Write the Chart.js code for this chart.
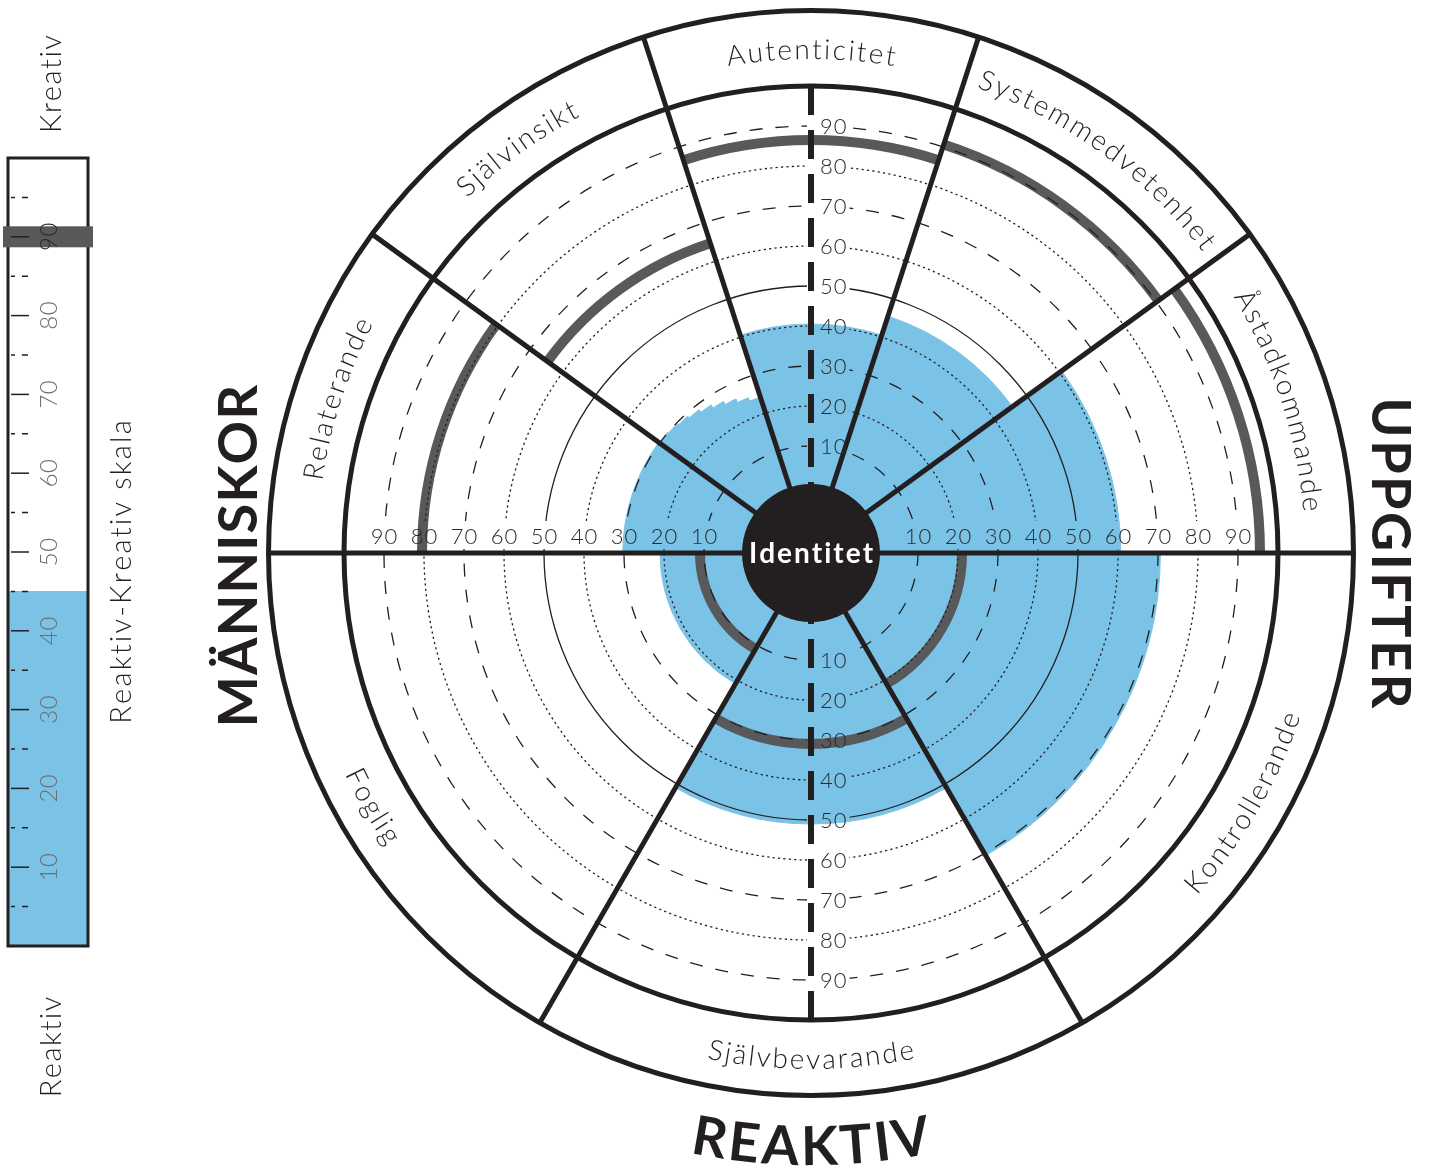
<!DOCTYPE html>
<html lang="sv">
<head>
<meta charset="utf-8">
<title>Ledarskapsprofil</title>
<script src="https://cdn.jsdelivr.net/npm/chart.js@4.4.1/dist/chart.umd.min.js"></script>
<style>
  html, body { margin: 0; padding: 0; background: #fff; }
  #wrap { position: relative; width: 1441px; height: 1171px; }
  #cirkel { position: absolute; left: 0; top: 0; width: 1441px; height: 1171px; }
  #skala { position: absolute; left: 0; top: 0; width: 170px; height: 1171px; }
</style>
</head>
<body>
<div id="wrap">
  <div id="cirkel"><canvas id="cirkelGraf"></canvas></div>
  <div id="skala"><canvas id="skalaGraf"></canvas></div>
</div>
<script>
// dimensioner medurs från klockan 9
const dimensioner = ["Relaterande", "Självinsikt", "Autenticitet", "Systemmedvetenhet", "Åstadkommande", "Kontrollerande", "Självbevarande", "Foglig"];
const dimVinklar = [36, 36, 36, 36, 36, 60, 60, 60];
// grå normbåge per dimension
const normVarden = [80.5, 64.7, 86.5, 90.6, 95.5, 21, 31, 11];

// blå profil (kilar, grader + värde)
const profilDelar = ["Relaterande",
  "Självinsikt 1", "Självinsikt 2", "Självinsikt 3", "Självinsikt 4", "Självinsikt 5",
  "Självinsikt 6", "Självinsikt 7", "Självinsikt 8", "Självinsikt 9",
  "Autenticitet", "Systemmedvetenhet", "Åstadkommande", "Kontrollerande", "Självbevarande", "Foglig"];
const profilVinklar = [36, 4, 4, 4, 4, 4, 4, 4, 4, 4, 36, 36, 36, 60, 60, 60];
const profilVarden = [30.3, 30.1, 29.8, 29.3, 28.7, 27.9, 27.0, 26.1, 25.1, 24.2, 40.5, 45.5, 60.7, 70.6, 51, 21];

const ringTicks = [10, 20, 30, 40, 50, 60, 70, 80, 90];
const ringStil = ["dash", "dot", "dash", "dot", "solid", "dot", "dash", "dot", "dash"];

// vänster skala
const skalaVarde = 45;
const skalaMarkering = 90;
const skalaTicks = [10, 20, 30, 40, 50, 60, 70, 80, 90];
const skalaSmaTicks = [5, 15, 25, 35, 45, 55, 65, 75, 85, 95];

const SVART = '#231f20';
const BLA = '#7ac3e7';
const GRA = '#58595b';
const FONT = 'Lato, "Open Sans", sans-serif';

function bredd(ctx, text, sp) {
  const chars = [...text];
  return chars.reduce((s, c) => s + ctx.measureText(c).width, 0) + sp * (chars.length - 1);
}

// text med teckenavstånd, align: 'left' | 'center'
function spaced(ctx, text, x, y, sp, align) {
  const chars = [...text];
  let pos = align === 'center' ? x - bredd(ctx, text, sp) / 2 : x;
  ctx.textAlign = 'left';
  chars.forEach(c => {
    ctx.fillText(c, pos, y);
    pos += ctx.measureText(c).width + sp;
  });
}

function roterad(ctx, text, x, y, rot, sp) {
  ctx.save();
  ctx.translate(x, y);
  ctx.rotate(rot);
  spaced(ctx, text, 0, 0, sp, 'center');
  ctx.restore();
}

// text längs en båge; utat = bokstävernas topp pekar utåt
function bagText(ctx, text, cx, cy, r, mitt, utat, sp) {
  const chars = [...text];
  const total = bredd(ctx, text, sp);
  let pos = -total / 2;
  ctx.textAlign = 'center';
  chars.forEach(c => {
    const w = ctx.measureText(c).width;
    const mid = pos + w / 2;
    const a = utat ? mitt + mid / r : mitt - mid / r;
    ctx.save();
    ctx.translate(cx + r * Math.cos(a), cy + r * Math.sin(a));
    ctx.rotate(utat ? a + Math.PI / 2 : a - Math.PI / 2);
    ctx.fillText(c, 0, 0);
    ctx.restore();
    pos += w + sp;
  });
}

const cirkelPlugin = {
  id: 'cirkel',
  afterDatasetsDraw(chart) {
    const ctx = chart.ctx;
    const s = chart.scales.r;
    const cx = s.xCenter, cy = s.yCenter;
    const R = v => s.getDistanceFromCenterForValue(v);
    const rad = d => d * Math.PI / 180;

    const gr = [];
    let a = rad(s.options.startAngle - 90);
    dimVinklar.forEach(d => { gr.push(a); a += rad(d); });
    gr.push(a);

    ctx.save();
    ctx.lineCap = 'butt';

    // grå normbågar
    ctx.strokeStyle = GRA;
    ctx.lineWidth = 10;
    normVarden.forEach((v, i) => {
      ctx.beginPath();
      ctx.arc(cx, cy, R(v), gr[i], gr[i + 1]);
      ctx.stroke();
    });

    // etiketter och deras ytor
    ctx.font = '300 22px ' + FONT;
    const etiketter = [];
    const ytor = [];
    ringTicks.forEach(v => {
      const r = R(v);
      const t = String(v);
      const w = bredd(ctx, t, 1);
      [cx - r, cx + r].forEach(x => {
        etiketter.push({ t, x: x - w / 2, y: cy - 9 });
        ytor.push([x - w / 2 - 3, cy - 32, w + 6, 28]);
      });
      [cy - r, cy + r].forEach(y => {
        etiketter.push({ t, x: cx + 9, y: y + 8 });
        ytor.push([cx - 4, y - 11, w + 16, 22]);
      });
    });

    // rutnätscirklar
    ctx.save();
    ctx.beginPath();
    ctx.rect(0, 0, chart.width, chart.height);
    ytor.forEach(r => ctx.rect(r[0], r[1], r[2], r[3]));
    ctx.clip('evenodd');
    ctx.strokeStyle = SVART;
    ctx.lineWidth = 1.3;
    ringTicks.forEach((v, i) => {
      const st = ringStil[i];
      ctx.setLineDash(st === 'dash' ? [13, 13] : st === 'dot' ? [2.2, 3.2] : []);
      ctx.beginPath();
      ctx.arc(cx, cy, R(v), 0, Math.PI * 2);
      ctx.stroke();
    });
    ctx.restore();

    // ringar och delningslinjer
    ctx.setLineDash([]);
    ctx.strokeStyle = SVART;
    ctx.lineWidth = 5;
    ctx.beginPath();
    ctx.arc(cx, cy, R(100), 0, Math.PI * 2);
    ctx.stroke();
    const yttre = s.drawingArea - 1.5;
    ctx.beginPath();
    ctx.arc(cx, cy, yttre, 0, Math.PI * 2);
    ctx.stroke();
    gr.slice(0, dimVinklar.length).forEach(g => {
      ctx.beginPath();
      ctx.moveTo(cx, cy);
      ctx.lineTo(cx + yttre * Math.cos(g), cy + yttre * Math.sin(g));
      ctx.stroke();
    });

    // lodrät streckad axel
    ctx.lineWidth = 6;
    ctx.setLineDash([29, 15]);
    ctx.beginPath();
    ctx.moveTo(cx, cy - R(100));
    ctx.lineTo(cx, cy - R(0));
    ctx.moveTo(cx, cy + R(100));
    ctx.lineTo(cx, cy + R(0));
    ctx.stroke();
    ctx.setLineDash([]);

    // identitet
    ctx.fillStyle = SVART;
    ctx.beginPath();
    ctx.arc(cx, cy, R(0.5), 0, Math.PI * 2);
    ctx.fill();
    ctx.fillStyle = '#fff';
    ctx.font = 'bold 28px ' + FONT;
    ctx.textBaseline = 'alphabetic';
    spaced(ctx, 'Identitet', cx, cy + 10, 2, 'center');

    // skaletiketter
    ctx.fillStyle = '#2e2a2b';
    ctx.font = '300 22px ' + FONT;
    etiketter.forEach(e => spaced(ctx, e.t, e.x, e.y, 1, 'left'));

    // dimensionsnamn
    ctx.fillStyle = SVART;
    ctx.font = '300 28px ' + FONT;
    dimensioner.forEach((d, i) => {
      const mitt = (gr[i] + gr[i + 1]) / 2;
      const utat = Math.sin(mitt) < 0;
      bagText(ctx, d, cx, cy, utat ? 494 : 516, mitt, utat, 2.2);
    });

    // stora rubriker
    ctx.font = 'bold 54px ' + FONT;
    roterad(ctx, 'MÄNNISKOR', cx - 554, cy + 3, -Math.PI / 2, 1.2);
    roterad(ctx, 'UPPGIFTER', cx + 561, cy, Math.PI / 2, 2.5);
    bagText(ctx, 'REAKTIV', cx, cy, 612, Math.PI / 2, false, 3);

    ctx.restore();
  }
};

new Chart(document.getElementById('cirkelGraf'), {
  type: 'polarArea',
  data: {
    labels: profilDelar,
    datasets: [{
      data: profilVarden,
      angle: profilVinklar,
      backgroundColor: BLA,
      borderColor: BLA,
      borderWidth: 1
    }]
  },
  options: {
    responsive: true,
    maintainAspectRatio: false,
    animation: false,
    layout: { padding: { left: 267, right: 86, top: 9, bottom: 74 } },
    plugins: { legend: { display: false }, tooltip: { enabled: false } },
    scales: {
      r: {
        min: -16.75,
        max: 119.25,
        startAngle: 270,
        ticks: { display: false },
        grid: { display: false },
        angleLines: { display: false },
        pointLabels: { display: false }
      }
    }
  },
  plugins: [cirkelPlugin]
});

const skalaPlugin = {
  id: 'skala',
  afterDatasetsDraw(chart) {
    const ctx = chart.ctx;
    const y = chart.scales.y;
    const { left, right, top, bottom } = chart.chartArea;
    ctx.save();

    ctx.strokeStyle = SVART;
    ctx.lineWidth = 3;
    ctx.strokeRect(left, top, right - left, bottom - top);

    // markering
    const ym = y.getPixelForValue(skalaMarkering);
    ctx.fillStyle = GRA;
    ctx.fillRect(left - 5, ym - 10.5, right - left + 10, 21);

    // tickmarkeringar
    ctx.lineWidth = 1.5;
    skalaTicks.forEach(v => {
      const p = y.getPixelForValue(v);
      ctx.beginPath();
      ctx.moveTo(left + 3, p);
      ctx.lineTo(left + 21, p);
      ctx.stroke();
    });
    skalaSmaTicks.forEach(v => {
      const p = y.getPixelForValue(v);
      ctx.beginPath();
      ctx.moveTo(left + 3, p);
      ctx.lineTo(left + 7, p);
      ctx.moveTo(left + 14, p);
      ctx.lineTo(left + 20, p);
      ctx.stroke();
    });

    ctx.font = '300 24px ' + FONT;
    skalaTicks.forEach(v => {
      const p = y.getPixelForValue(v);
      ctx.fillStyle = Math.abs(p - ym) < 12 ? '#2e2a2b' : '#6d6e71';
      roterad(ctx, String(v), left + 49, p, -Math.PI / 2, 0.5);
    });

    ctx.fillStyle = SVART;
    ctx.font = '300 29px ' + FONT;
    roterad(ctx, 'Kreativ', 61, 84, -Math.PI / 2, 1.5);
    roterad(ctx, 'Reaktiv', 61, 1047, -Math.PI / 2, 1.5);
    roterad(ctx, 'Reaktiv-Kreativ skala', 131, 572, -Math.PI / 2, 2.2);
    ctx.restore();
  }
};

new Chart(document.getElementById('skalaGraf'), {
  type: 'bar',
  data: {
    labels: ['Reaktiv-Kreativ skala'],
    datasets: [{
      data: [skalaVarde],
      backgroundColor: BLA,
      borderWidth: 0,
      barPercentage: 1,
      categoryPercentage: 1
    }]
  },
  options: {
    responsive: true,
    maintainAspectRatio: false,
    animation: false,
    layout: { padding: { left: 8, right: 82, top: 158, bottom: 225 } },
    plugins: { legend: { display: false }, tooltip: { enabled: false } },
    scales: {
      x: { display: false },
      y: { display: false, min: 0, max: 100 }
    }
  },
  plugins: [skalaPlugin]
});
</script>
</body>
</html>
